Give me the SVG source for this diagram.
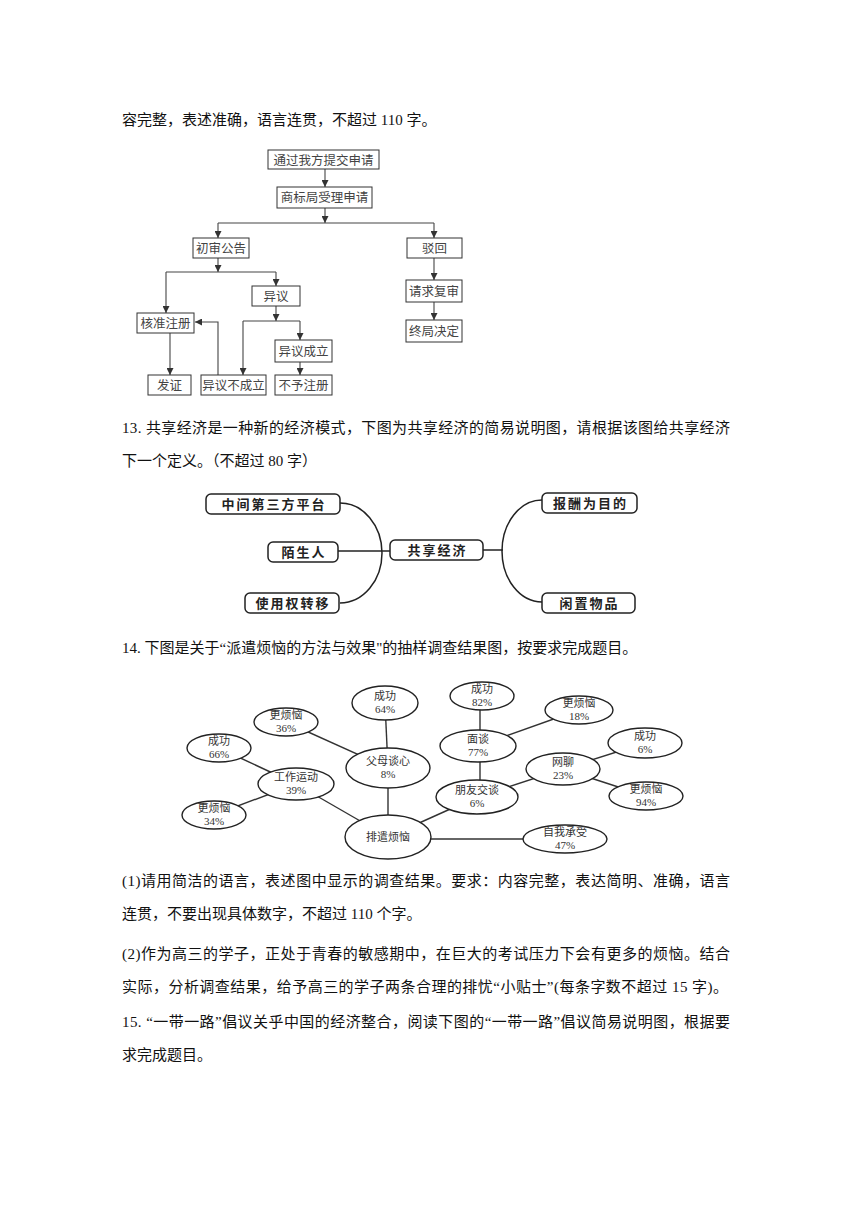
<svg xmlns="http://www.w3.org/2000/svg" width="860" height="1216" viewBox="0 0 860 1216">
<defs>
<marker id="ah" markerUnits="userSpaceOnUse" markerWidth="8" markerHeight="7" refX="7" refY="3.5" orient="auto">
<path d="M0,0 L7,3.5 L0,7 z" fill="#333"/>
</marker>
<style>
.t{font-family:"Liberation Serif","Noto Sans CJK SC",serif;font-size:15px;fill:#111}
.fb{fill:#fff;stroke:#333;stroke-width:1}
.ft{font-family:"Liberation Serif","Noto Sans CJK SC",serif;font-size:12.5px;fill:#444;text-anchor:middle}
.fl{fill:none;stroke:#444;stroke-width:1.1}
.fa{fill:none;stroke:#444;stroke-width:1.1;marker-end:url(#ah)}
.sb{fill:#fff;stroke:#222;stroke-width:1.5}
.st{font-family:"Noto Sans CJK SC",sans-serif;font-size:13px;font-weight:bold;fill:#222;text-anchor:middle;letter-spacing:2px}
.sl{fill:none;stroke:#222;stroke-width:1.5}
.be{fill:#fff;stroke:#222;stroke-width:1.4}
.bt{font-family:"Liberation Serif","Noto Sans CJK SC",serif;font-size:11px;fill:#333;text-anchor:middle}
.bl{stroke:#333;stroke-width:1.4}
</style>
</defs>
<rect width="860" height="1216" fill="#fff"/>

<g id="text">
<text class="t" x="122" y="125">容完整，表述准确，语言连贯，不超过 110 字。</text>
<text class="t" x="122" y="433" textLength="608" lengthAdjust="spacing">13. 共享经济是一种新的经济模式，下图为共享经济的简易说明图，请根据该图给共享经济</text>
<text class="t" x="122" y="466">下一个定义。（不超过 80 字）</text>
<text class="t" x="122" y="653">14. 下图是关于“派遣烦恼的方法与效果"的抽样调查结果图，按要求完成题目。</text>
<text class="t" x="122" y="886" textLength="608" lengthAdjust="spacing">(1)请用简洁的语言，表述图中显示的调查结果。要求：内容完整，表达简明、准确，语言</text>
<text class="t" x="122" y="919">连贯，不要出现具体数字，不超过 110 个字。</text>
<text class="t" x="122" y="959" textLength="608" lengthAdjust="spacing">(2)作为高三的学子，正处于青春的敏感期中，在巨大的考试压力下会有更多的烦恼。结合</text>
<text class="t" x="122" y="992" textLength="606" lengthAdjust="spacing">实际，分析调查结果，给予高三的学子两条合理的排忧“小贴士”(每条字数不超过 15 字)。</text>
<text class="t" x="122" y="1027" textLength="608" lengthAdjust="spacing">15. “一带一路”倡议关乎中国的经济整合，阅读下图的“一带一路”倡议简易说明图，根据要</text>
<text class="t" x="122" y="1060">求完成题目。</text>
</g>

<!-- Flowchart -->
<g id="flow-connectors">
<line class="fa" x1="325" y1="169" x2="325" y2="187"/>
<line class="fa" x1="325" y1="208" x2="325" y2="223"/>
<polyline class="fl" points="218,223 434,223"/>
<line class="fa" x1="218" y1="223" x2="218" y2="238"/>
<line class="fa" x1="434" y1="223" x2="434" y2="238"/>
<line class="fa" x1="218" y1="258" x2="218" y2="272"/>
<polyline class="fl" points="166,272 276,272"/>
<line class="fa" x1="166" y1="272" x2="166" y2="313"/>
<line class="fa" x1="276" y1="272" x2="276" y2="286"/>
<line class="fa" x1="276" y1="306" x2="276" y2="321"/>
<polyline class="fl" points="243,321 300,321"/>
<line class="fa" x1="243" y1="321" x2="243" y2="375"/>
<line class="fa" x1="300" y1="321" x2="300" y2="340"/>
<line class="fa" x1="300" y1="362" x2="300" y2="375"/>
<line class="fa" x1="170" y1="333" x2="170" y2="375"/>
<polyline class="fa" points="218,375 218,322 195,322"/>
<line class="fa" x1="434" y1="258" x2="434" y2="280"/>
<line class="fa" x1="434" y1="302" x2="434" y2="320"/>
</g>
<g id="f1"><rect class="fb" x="268" y="150" width="111" height="19"/><text class="ft" x="323.5" y="164.5">通过我方提交申请</text></g>
<g id="f2"><rect class="fb" x="277" y="187" width="95" height="21"/><text class="ft" x="324.5" y="202">商标局受理申请</text></g>
<g id="f3"><rect class="fb" x="193" y="238" width="56" height="20"/><text class="ft" x="221" y="252.5">初审公告</text></g>
<g id="f4"><rect class="fb" x="407" y="238" width="55" height="20"/><text class="ft" x="434.5" y="252.5">驳回</text></g>
<g id="f5"><rect class="fb" x="252" y="286" width="48" height="20"/><text class="ft" x="276" y="300.5">异议</text></g>
<g id="f6"><rect class="fb" x="137" y="313" width="57" height="20"/><text class="ft" x="165.5" y="327.5">核准注册</text></g>
<g id="f7"><rect class="fb" x="275" y="340" width="57" height="22"/><text class="ft" x="303.5" y="355.5">异议成立</text></g>
<g id="f8"><rect class="fb" x="275" y="375" width="57" height="20"/><text class="ft" x="303.5" y="389.5">不予注册</text></g>
<g id="f9"><rect class="fb" x="148" y="375" width="43" height="20"/><text class="ft" x="169.5" y="389.5">发证</text></g>
<g id="f10"><rect class="fb" x="201" y="375" width="65" height="20"/><text class="ft" x="233.5" y="389.5">异议不成立</text></g>
<g id="f11"><rect class="fb" x="406" y="280" width="56" height="22"/><text class="ft" x="434" y="295.5">请求复审</text></g>
<g id="f12"><rect class="fb" x="406" y="320" width="56" height="22"/><text class="ft" x="434" y="335.5">终局决定</text></g>

<!-- Shared economy -->
<g id="share-connectors">
<path class="sl" d="M340,503 A42,50 0 0 1 340,603"/>
<path class="sl" d="M542,500 A40,51 0 0 0 542,602"/>
<line class="sl" x1="338" y1="551" x2="390" y2="551"/>
<line class="sl" x1="483" y1="550" x2="503" y2="550"/>
</g>
<g id="s1"><rect class="sb" x="206" y="494" width="134" height="20" rx="5"/><text class="st" x="274" y="509">中间第三方平台</text></g>
<g id="s2"><rect class="sb" x="268" y="542" width="70" height="20" rx="5"/><text class="st" x="304" y="557">陌生人</text></g>
<g id="s3"><rect class="sb" x="245" y="593" width="94" height="20" rx="5"/><text class="st" x="293" y="608">使用权转移</text></g>
<g id="s4"><rect class="sb" x="390" y="540" width="93" height="20" rx="5"/><text class="st" x="437.5" y="555">共享经济</text></g>
<g id="s5"><rect class="sb" x="542" y="493" width="95" height="20" rx="5"/><text class="st" x="590.5" y="508">报酬为目的</text></g>
<g id="s6"><rect class="sb" x="542" y="593" width="93" height="20" rx="5"/><text class="st" x="589.5" y="608">闲置物品</text></g>

<!-- Bubble chart -->
<g id="bubble-connectors">
<line class="bl" x1="385" y1="703" x2="388" y2="768"/>
<line class="bl" x1="286" y1="722" x2="388" y2="768"/>
<line class="bl" x1="219" y1="748" x2="296" y2="784"/>
<line class="bl" x1="214" y1="815" x2="296" y2="784"/>
<line class="bl" x1="296" y1="784" x2="388" y2="837"/>
<line class="bl" x1="388" y1="768" x2="388" y2="837"/>
<line class="bl" x1="388" y1="837" x2="477" y2="797"/>
<line class="bl" x1="388" y1="839" x2="565" y2="839"/>
<line class="bl" x1="480" y1="696" x2="480" y2="797"/>
<line class="bl" x1="478" y1="746" x2="579" y2="710"/>
<line class="bl" x1="477" y1="797" x2="563" y2="769"/>
<line class="bl" x1="563" y1="769" x2="645" y2="743"/>
<line class="bl" x1="563" y1="769" x2="646" y2="796"/>
</g>
<g id="b1"><ellipse class="be" cx="385" cy="703" rx="33" ry="17"/><text class="bt" x="385" y="700">成功</text><text class="bt" x="385" y="713">64%</text></g>
<g id="b2"><ellipse class="be" cx="286" cy="722" rx="32" ry="14"/><text class="bt" x="286" y="719">更烦恼</text><text class="bt" x="286" y="732">36%</text></g>
<g id="b3"><ellipse class="be" cx="219" cy="748" rx="32" ry="14"/><text class="bt" x="219" y="745">成功</text><text class="bt" x="219" y="758">66%</text></g>
<g id="b4"><ellipse class="be" cx="296" cy="784" rx="38" ry="16"/><text class="bt" x="296" y="781">工作运动</text><text class="bt" x="296" y="794">39%</text></g>
<g id="b5"><ellipse class="be" cx="214" cy="815" rx="32" ry="14"/><text class="bt" x="214" y="812">更烦恼</text><text class="bt" x="214" y="825">34%</text></g>
<g id="b6"><ellipse class="be" cx="388" cy="768" rx="42" ry="20"/><text class="bt" x="388" y="765">父母谈心</text><text class="bt" x="388" y="778">8%</text></g>
<g id="b7"><ellipse class="be" cx="388" cy="837" rx="43" ry="22"/><text class="bt" x="388" y="841">排遣烦恼</text></g>
<g id="b8"><ellipse class="be" cx="482" cy="696" rx="32" ry="14"/><text class="bt" x="482" y="693">成功</text><text class="bt" x="482" y="706">82%</text></g>
<g id="b9"><ellipse class="be" cx="579" cy="710" rx="34" ry="14"/><text class="bt" x="579" y="707">更烦恼</text><text class="bt" x="579" y="720">18%</text></g>
<g id="b10"><ellipse class="be" cx="478" cy="746" rx="38" ry="16"/><text class="bt" x="478" y="743">面谈</text><text class="bt" x="478" y="756">77%</text></g>
<g id="b11"><ellipse class="be" cx="645" cy="743" rx="37" ry="15"/><text class="bt" x="645" y="740">成功</text><text class="bt" x="645" y="753">6%</text></g>
<g id="b12"><ellipse class="be" cx="563" cy="769" rx="37" ry="16"/><text class="bt" x="563" y="766">网聊</text><text class="bt" x="563" y="779">23%</text></g>
<g id="b13"><ellipse class="be" cx="477" cy="797" rx="41" ry="17"/><text class="bt" x="477" y="794">朋友交谈</text><text class="bt" x="477" y="807">6%</text></g>
<g id="b14"><ellipse class="be" cx="646" cy="796" rx="37" ry="14"/><text class="bt" x="646" y="793">更烦恼</text><text class="bt" x="646" y="806">94%</text></g>
<g id="b15"><ellipse class="be" cx="565" cy="839" rx="42" ry="14"/><text class="bt" x="565" y="836">自我承受</text><text class="bt" x="565" y="849">47%</text></g>
</svg>
